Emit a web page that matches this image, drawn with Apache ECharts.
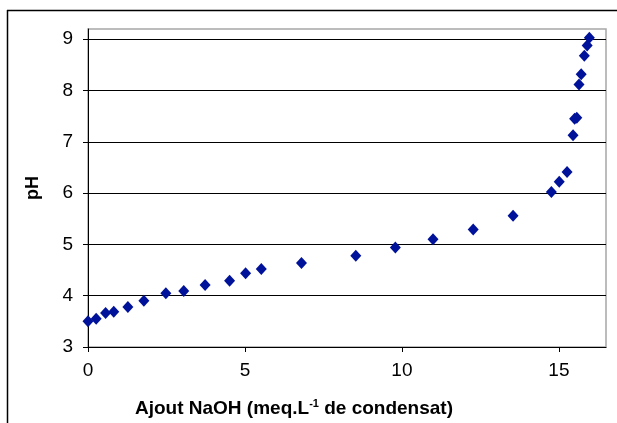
<!DOCTYPE html>
<html>
<head>
<meta charset="utf-8">
<script src="https://cdn.jsdelivr.net/npm/echarts@6/dist/echarts.min.js"></script>
<style>
html,body{margin:0;padding:0;background:#fff;}
#chart{width:617px;height:423px;}
</style>
</head>
<body>
<div id="chart"></div>
<script>
// Data
const naohAdded = [0, 0.26, 0.56, 0.82, 1.27, 1.78, 2.48, 3.05, 3.73, 4.51, 5.02, 5.52,
  6.80, 8.53, 9.79, 10.99, 12.27, 13.54, 14.76, 15.01, 15.26, 15.45, 15.50, 15.57,
  15.64, 15.71, 15.81, 15.90, 15.97];
const phValues = [3.50, 3.55, 3.665, 3.685, 3.78, 3.90, 4.05, 4.09, 4.21, 4.29, 4.44, 4.52,
  4.64, 4.78, 4.94, 5.10, 5.29, 5.56, 6.02, 6.22, 6.41, 7.13, 7.45, 7.47,
  8.12, 8.32, 8.68, 8.88, 9.03];
const xTicks = [0, 5, 10, 15];
const yTicks = [3, 4, 5, 6, 7, 8, 9];

const points = naohAdded.map((x, i) => [x, phValues[i]]);

const chart = echarts.init(document.getElementById('chart'), null, {renderer: 'canvas'});
chart.setOption({
  animation: false,
  backgroundColor: '#ffffff',
  grid: {
    left: 88, right: 11, top: 29, bottom: 75,
    show: true, borderColor: '#a6a6a6', borderWidth: 1.5, backgroundColor: '#ffffff'
  },
  xAxis: {
    type: 'value',
    min: 0, max: 16.5, interval: 5,
    name: 'Ajout NaOH (meq.L{sup|-1} de condensat)',
    nameLocation: 'middle',
    nameGap: 51,
    nameTextStyle: {
      fontFamily: 'Liberation Sans, Arial, sans-serif',
      fontWeight: 'bold', fontSize: 19, color: '#000',
      padding: [0, 106, 0, 0],
      rich: {
        sup: {fontSize: 11, fontWeight: 'bold', verticalAlign: 'top', padding: [0, 0, 10, 0],
              fontFamily: 'Liberation Sans, Arial, sans-serif', color: '#000'}
      }
    },
    axisLine: {show: true, onZero: false, lineStyle: {color: '#000', width: 1}},
    axisTick: {show: true, length: 5, inside: false, lineStyle: {color: '#000'}},
    axisLabel: {
      margin: 14, fontSize: 19, color: '#000',
      fontFamily: 'Liberation Sans, Arial, sans-serif',
      showMaxLabel: false,
      formatter: v => (xTicks.indexOf(v) >= 0 ? String(v) : '')
    },
    splitLine: {show: false}
  },
  yAxis: {
    type: 'value',
    min: 3, max: 9.2, interval: 1,
    name: 'pH',
    nameLocation: 'middle',
    nameGap: 46,
    nameRotate: 90,
    nameTextStyle: {
      fontFamily: 'Liberation Sans, Arial, sans-serif',
      fontWeight: 'bold', fontSize: 18, color: '#000'
    },
    axisLine: {show: true, onZero: false, lineStyle: {color: '#000', width: 1}},
    axisTick: {show: true, length: 5, inside: false, lineStyle: {color: '#000'}},
    axisLabel: {
      margin: 15, fontSize: 19, color: '#000',
      fontFamily: 'Liberation Sans, Arial, sans-serif',
      showMaxLabel: false,
      formatter: v => (yTicks.indexOf(v) >= 0 ? String(v) : '')
    },
    splitLine: {show: true, showMinLine: false, showMaxLine: false, lineStyle: {color: '#000', width: 1}}
  },
  series: [{
    type: 'scatter',
    data: points,
    symbol: 'diamond',
    symbolSize: [11, 12],
    itemStyle: {color: '#00129a', opacity: 1},
    z: 5
  }],
  graphic: [
    {type: 'line', shape: {x1: 7.5, y1: 10, x2: 7.5, y2: 423}, style: {stroke: '#000', lineWidth: 1.5}, silent: true},
    {type: 'line', shape: {x1: 7, y1: 10.5, x2: 617, y2: 10.5}, style: {stroke: '#000', lineWidth: 1.5}, silent: true}
  ]
});
</script>
</body>
</html>
